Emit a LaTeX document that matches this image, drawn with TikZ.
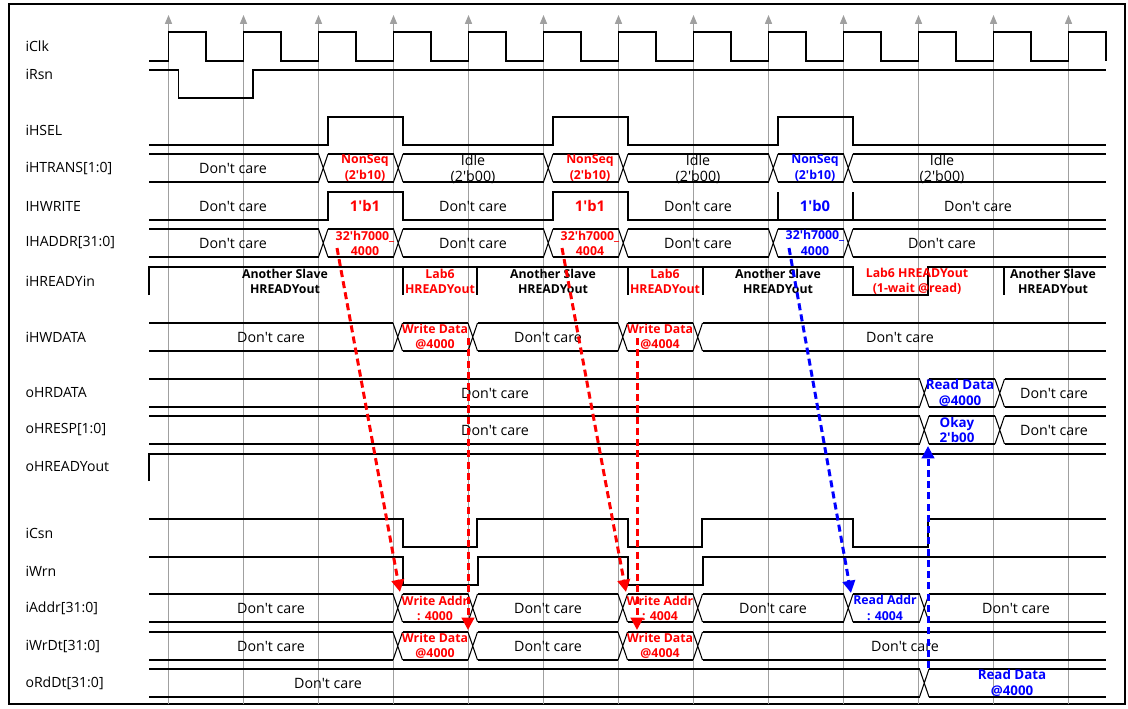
\documentclass[tikz,border=0pt]{standalone}
\usepackage{fontspec}
\setmainfont{Open Sans}[Ligatures=TeXOff]
\usetikzlibrary{arrows.meta, positioning}

\definecolor{gridgray}{RGB}{160,160,160}
\definecolor{wred}{RGB}{255,0,0}
\definecolor{rblue}{RGB}{0,0,255}

% bus row: top y, bottom y, list of transition x
\newcommand{\busrow}[3]{%
  \foreach \t [remember=\t as \p (initially 139.5)] in {#3,1106}{
    \draw (\p+9.5,#1) -- (\t,#1) (\p+9.5,#2) -- (\t,#2);
    \ifdim\t pt<1100pt \draw (\t,#1) -- (\t+9.5,#2) (\t,#2) -- (\t+9.5,#1); \fi
  }
}

\begin{document}
\begin{tikzpicture}[x=0.02cm, y=-0.02cm, line width=0.6pt,
  sig/.style={anchor=west, inner sep=0pt, font=\fontsize{8}{9}\selectfont},
  dc/.style={inner sep=0pt, align=center, font=\fontsize{8.1}{9}\selectfont},
  wv/.style={inner sep=0pt, align=center, text=wred, font=\fontsize{7}{8.6}\selectfont\bfseries},
  rv/.style={inner sep=0pt, align=center, text=rblue, font=\fontsize{7}{8.8}\selectfont\bfseries},
  hv/.style={inner sep=0pt, align=center, font=\fontsize{7}{8.6}\selectfont\bfseries},
  wdash/.style={line width=1.7pt, dash pattern=on 4pt off 2.4pt, -{Triangle[length=7pt,width=7pt]}}]
\useasboundingbox (0,0) rectangle (1128,708);
\draw[line width=0.8pt] (9,4) rectangle (1125,704);

% clock grid
\foreach \k in {0,...,12}
  \draw[gridgray, line width=0.5pt, -{Triangle[length=5pt,width=4pt]}] (168.5+75*\k,704) -- (168.5+75*\k,15);

% signal names
\foreach \n/\t/\y in {clk/iClk/46, rsn/iRsn/74, hsel/iHSEL/130, htrans/{iHTRANS[1:0]}/168,
  hwrite/IHWRITE/206, haddr/{IHADDR[31:0]}/243, hready/iHREADYin/281, hwdata/iHWDATA/337,
  hrdata/oHRDATA/393, hresp/{oHRESP[1:0]}/430, hreadyo/oHREADYout/467, csn/iCsn/533,
  wrn/iWrn/571, addr/{iAddr[31:0]}/608, wrdt/{iWrDt[31:0]}/646, rddt/{oRdDt[31:0]}/683}
  \node[sig] (\n) at (25,\y) {\t};

% iClk
\draw (149,61) \foreach \k in {0,...,12}{ -- (168.5+75*\k,61) -- (168.5+75*\k,32) -- (206+75*\k,32) -- (206+75*\k,61) };
% iRsn
\draw (149,70) -- (178.5,70) -- (178.5,98) -- (253,98) -- (253,70) -- (1106,70);
% iHSEL
\draw (149,145) \foreach \a in {328,553,778}{ -- (\a,145) -- (\a,117) -- (\a+75,117) -- (\a+75,145) } -- (1106,145);

% iHTRANS
\busrow{154}{182}{318.5,393.5,543.5,618.5,768.5,843.5}
\node[dc] (t1) at (233,168) {Don't care};
\node[wv] (t2) at (365,168) {NonSeq\\(2'b10)};
\node[dc] (t3) at (473,169) {Idle\\(2'b00)};
\node[wv] (t4) at (590,168) {NonSeq\\(2'b10)};
\node[dc] (t5) at (698,169) {Idle\\(2'b00)};
\node[rv] (t6) at (815,168) {NonSeq\\(2'b10)};
\node[dc] (t7) at (942,169) {Idle\\(2'b00)};

% iHWRITE
\draw (149,220) \foreach \a in {328,553}{ -- (\a,220) -- (\a,192) -- (\a+75,192) -- (\a+75,220) } -- (1106,220);
\draw (778,192) -- (778,220) (853,192) -- (853,220);
\node[dc] (w1) at (233,206) {Don't care};
\node[wv, font=\fontsize{8.4}{9}\selectfont\bfseries] (w2) at (365,206) {1'b1};
\node[dc] (w3) at (473,206) {Don't care};
\node[wv, font=\fontsize{8.4}{9}\selectfont\bfseries] (w4) at (590,206) {1'b1};
\node[dc] (w5) at (698,206) {Don't care};
\node[rv, font=\fontsize{8.4}{9}\selectfont\bfseries] (w6) at (815,206) {1'b0};
\node[dc] (w7) at (978,206) {Don't care};

% iHADDR
\busrow{229}{257}{318.5,393.5,543.5,618.5,768.5,843.5}
\node[dc] (a1) at (233,243) {Don't care};
\node[wv] (a2) at (365,243) {32'h7000\_\\4000};
\node[dc] (a3) at (473,243) {Don't care};
\node[wv] (a4) at (590,243) {32'h7000\_\\4004};
\node[dc] (a5) at (698,243) {Don't care};
\node[rv] (a6) at (815,243) {32'h7000\_\\4000};
\node[dc] (a7) at (942,243) {Don't care};

% iHREADYin
\draw (149,295) -- (149,267) -- (853,267) -- (853,295) -- (928,295) -- (928,267) -- (1106,267);
\foreach \x in {403,477,628,703,1004} \draw (\x,267) -- (\x,295);
\node[hv] (r1) at (285,281) {Another Slave\\HREADYout};
\node[wv] (r2) at (440,281) {Lab6\\HREADYout};
\node[hv] (r3) at (553,281) {Another Slave\\HREADYout};
\node[wv] (r4) at (665,281) {Lab6\\HREADYout};
\node[hv] (r5) at (778,281) {Another Slave\\HREADYout};
\node[wv] (r6) at (917,281) {Lab6 HREADYout\\(1-wait @read)};
\node[hv] (r7) at (1053,281) {Another Slave\\HREADYout};

% iHWDATA
\busrow{323}{351}{393,468,618,693}
\node[dc] (d1) at (271,337) {Don't care};
\node[wv] (d2) at (435,337) {Write Data\\@4000};
\node[dc] (d3) at (548,337) {Don't care};
\node[wv] (d4) at (660,337) {Write Data\\@4004};
\node[dc] (d5) at (900,337) {Don't care};

% oHRDATA, oHRESP
\busrow{379}{407}{919.5,995}
\node[dc] (q1) at (495,393) {Don't care};
\node[rv, font=\fontsize{7.6}{8.8}\selectfont\bfseries] (q2) at (960,393) {Read Data\\@4000};
\node[dc] (q3) at (1054,393) {Don't care};
\busrow{416}{444}{919.5,995}
\node[dc] (s1) at (495,430) {Don't care};
\node[rv, font=\fontsize{7.6}{8.8}\selectfont\bfseries] (s2) at (957,430) {Okay\\2'b00};
\node[dc] (s3) at (1054,430) {Don't care};

% oHREADYout
\draw (149,481) -- (149,454) -- (1106,454);

% iCsn, iWrn
\draw (149,519) \foreach \a/\b in {403/477,628/702,853/928}{ -- (\a,519) -- (\a,547) -- (\b,547) -- (\b,519) } -- (1106,519);
\draw (149,557) \foreach \a/\b in {403/478,628/703}{ -- (\a,557) -- (\a,585) -- (\b,585) -- (\b,557) } -- (1106,557);

% iAddr
\busrow{594}{622}{393,468,618,693,843.5,919.5}
\node[dc] (m1) at (271,608) {Don't care};
\node[wv] (m2) at (435,608) {Write Addr\\: 4000};
\node[dc] (m3) at (548,608) {Don't care};
\node[wv] (m4) at (660,608) {Write Addr\\: 4004};
\node[dc] (m5) at (773,608) {Don't care};
\node[rv] (m6) at (885,608) {Read Addr\\: 4004};
\node[dc] (m7) at (1016,608) {Don't care};

% iWrDt
\busrow{632}{660}{393,468,618,693}
\node[dc] (n1) at (271,646) {Don't care};
\node[wv] (n2) at (435,646) {Write Data\\@4000};
\node[dc] (n3) at (548,646) {Don't care};
\node[wv] (n4) at (660,646) {Write Data\\@4004};
\node[dc] (n5) at (905,646) {Don't care};

% oRdDt
\busrow{669}{697}{919.5}
\node[dc] (o1) at (328,683) {Don't care};
\node[rv, font=\fontsize{7.6}{8.8}\selectfont\bfseries] (o2) at (1012,683) {Read Data\\@4000};

% dependency arrows
\coordinate (wa1s) at (337,248); \coordinate (wa1e) at (400,592);
\coordinate (wd1s) at (468,338); \coordinate (wd1e) at (468,630);
\coordinate (wa2s) at (562,248); \coordinate (wa2e) at (626,592);
\coordinate (wd2s) at (637,338); \coordinate (wd2e) at (637,630);
\coordinate (ra1s) at (789,248); \coordinate (ra1e) at (851,593);
\coordinate (rd1s) at (928,668); \coordinate (rd1e) at (928,446);
\draw[wdash, wred] (wa1s) -- (wa1e);
\draw[wdash, wred] (wd1s) -- (wd1e);
\draw[wdash, wred] (wa2s) -- (wa2e);
\draw[wdash, wred] (wd2s) -- (wd2e);
\draw[wdash, rblue] (ra1s) -- (ra1e);
\draw[wdash, rblue] (rd1s) -- (rd1e);
\end{tikzpicture}
\end{document}
